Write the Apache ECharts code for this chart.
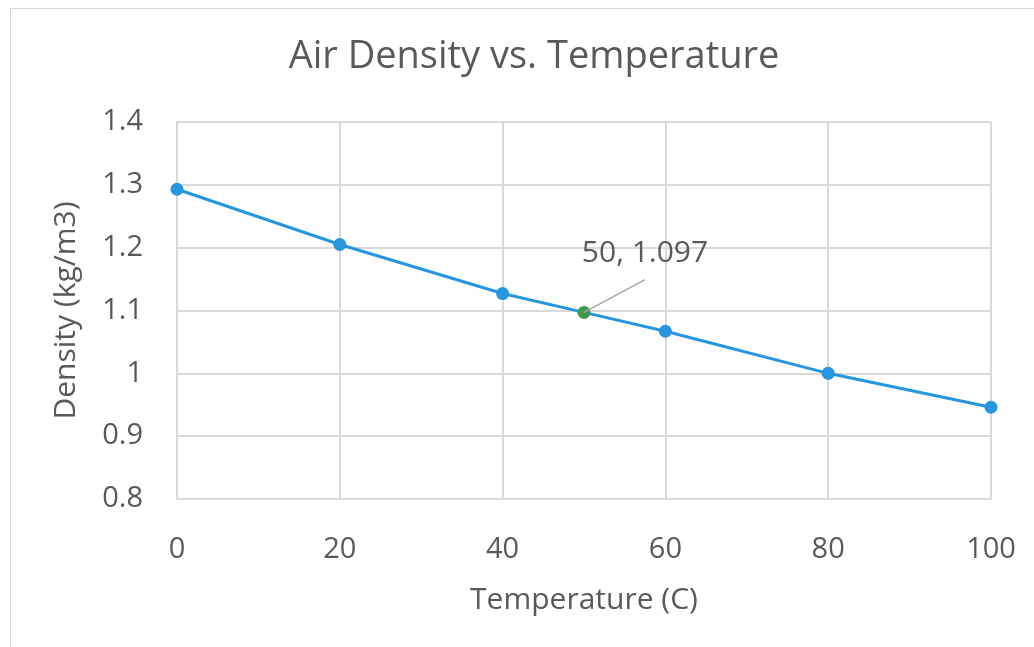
<!DOCTYPE html>
<html><head><meta charset="utf-8">
<script src="https://cdn.jsdelivr.net/npm/echarts@6/dist/echarts.min.js"></script>
<style>html,body{margin:0;padding:0;background:#fff}#c{width:1034px;height:647px}</style>
</head><body><div id="c"></div>
<script>
const temperatures = [0, 20, 40, 50, 60, 80, 100];
const densities = [1.293, 1.205, 1.127, 1.097, 1.067, 1.000, 0.946];
const highlightIndex = 3;
const xTicks = [0, 20, 40, 60, 80, 100];
const yTicks = [0.8, 0.9, 1.0, 1.1, 1.2, 1.3, 1.4];
const leaderEnd = [57.5, 1.149];

const font = '"Open Sans", "Liberation Sans", sans-serif';
const txt = '#595959';
const chart = echarts.init(document.getElementById('c'));
chart.setOption({
  animation: false,
  graphic: [{type:'rect', shape:{x:10.5,y:8.5,width:1040,height:700}, style:{fill:'none', stroke:'#d9d9d9', lineWidth:1}}],
  title: {text:'Air Density vs. Temperature', left:529, textAlign:'center', top:33, textStyle:{fontFamily:font, fontSize:38, fontWeight:'normal', color:txt}},
  grid: {left:177, right:43, top:122, bottom:148},
  xAxis: {type:'value', min:0, max:100, interval:20,
    name:'Temperature (C)', nameLocation:'middle', nameGap:86,
    nameTextStyle:{fontFamily:font, fontSize:30, color:txt},
    axisLine:{show:true, lineStyle:{color:'#d9d9d9', width:2}},
    axisTick:{show:false},
    axisLabel:{fontFamily:font, fontSize:29, color:txt, margin:36},
    splitLine:{show:true, lineStyle:{color:'#d9d9d9', width:2}}},
  yAxis: {type:'value', min:0.8, max:1.4, interval:0.1,
    name:'Density (kg/m3)', nameLocation:'middle', nameGap:96,
    nameTextStyle:{fontFamily:font, fontSize:30, color:txt},
    axisLine:{show:true, lineStyle:{color:'#d9d9d9', width:2}},
    axisTick:{show:false},
    axisLabel:{fontFamily:font, fontSize:29, color:txt, margin:34,
      formatter: v => { const r = Math.round(v*10)/10; return yTicks.includes(r) ? (r===1 ? '1' : r.toFixed(1)) : ''; }},
    splitLine:{show:true, lineStyle:{color:'#d9d9d9', width:2}}},
  series: [{
    type:'line',
    data: temperatures.map((t,i) => {
      const d = {value:[t, densities[i]]};
      if (i === highlightIndex) {
        d.itemStyle = {color:'#3f9a4c'};
        d.label = {show:true, formatter: t + ', ' + densities[i].toFixed(3), position:'top', offset:[61,-32],
          fontFamily:font, fontSize:30, color:txt};
      }
      return d;
    }),
    symbol:'circle', symbolSize:13,
    lineStyle:{color:'#2697de', width:3},
    itemStyle:{color:'#2697de'},
    z:3,
    markLine: {silent:true, symbol:'none', label:{show:false},
      lineStyle:{color:'#a6a6a6', width:1.5, type:'solid'},
      data:[[{coord:[temperatures[highlightIndex], densities[highlightIndex]]},{coord:leaderEnd}]]}
  }]
});
</script></body></html>
